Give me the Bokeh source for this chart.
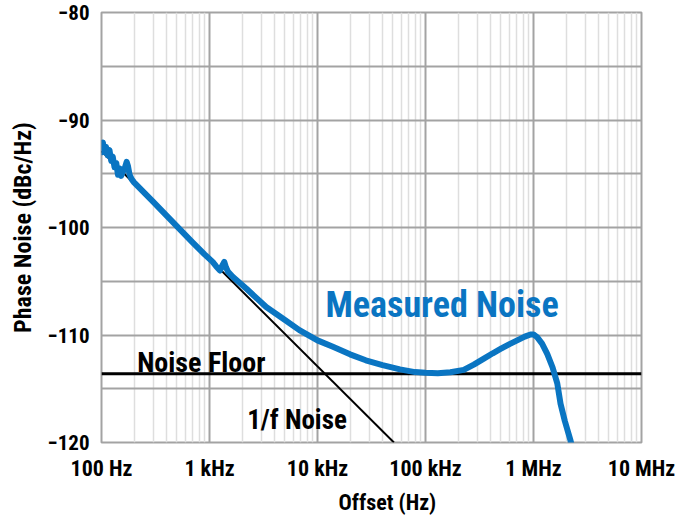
from bokeh.plotting import figure
from bokeh.models import Range1d, FixedTicker, Label, Title
from bokeh.embed import file_html
from bokeh.resources import INLINE

# ---- data ----
measured_freq = [100, 101.5, 103, 106.5, 110, 114, 118.5, 123, 127, 132, 137, 142, 147,
                 152, 158, 165, 171, 176, 182, 190, 200,
                 300, 500, 700, 900, 1070, 1150, 1250, 1320, 1370, 1420, 1480, 1650,
                 2200, 3350, 5000, 6800, 10000, 13900, 20000, 28000, 40000, 58000,
                 80000, 100000, 130000, 170000, 226000, 280000, 347000, 420000,
                 495000, 600000, 706000, 830000, 938000, 1000000, 1080000, 1200000,
                 1340000, 1500000, 1660000, 1780000, 1950000, 2200000, 2300000]
measured_db = [-92.3, -93.0, -92.1, -93.0, -92.5, -93.3, -92.8, -93.8, -93.4, -94.4, -94.0, -95.1, -94.5,
               -95.2, -94.8, -94.4, -93.9, -94.3, -95.1, -95.5, -95.8,
               -97.6, -99.9, -101.4, -102.5, -103.2, -103.6, -104.0, -103.5, -103.2, -103.7, -104.1, -104.6,
               -105.7, -107.4, -108.6, -109.55, -110.5, -111.1, -111.8, -112.35, -112.8, -113.2,
               -113.45, -113.52, -113.55, -113.46, -113.24, -112.75, -112.2, -111.7,
               -111.3, -110.85, -110.5, -110.15, -109.95, -109.95, -110.2, -110.8,
               -111.75, -113.0, -114.5, -116.4, -118.0, -119.8, -120.6]

flicker_freq = [100, 51000]
flicker_db = [-92.9, -120.0]

floor_freq = [100, 10000000]
floor_db = [-113.6, -113.6]

x_ticks = [100, 1000, 10000, 100000, 1000000, 10000000]
x_tick_labels = ["100 Hz", "1 kHz", "10 kHz", "100 kHz", "1 MHz", "10 MHz"]
x_minor = [m * d for d in [100, 1000, 10000, 100000, 1000000] for m in range(2, 10)]
y_ticks = [-80, -90, -100, -110, -120]
y_grid = [-80, -85, -90, -95, -100, -105, -110, -115, -120]

FONT = "Roboto Condensed, DejaVu Sans Condensed, Roboto"
BLUE = "#0a75c2"
GRID = "#a3a3a3"

p = figure(width=692, height=518, x_axis_type="log", title=None,
           x_range=Range1d(100, 10000000), y_range=Range1d(-120, -80),
           output_backend="svg", toolbar_location=None,
           min_border_left=101, min_border_right=51, min_border_top=12, min_border_bottom=76)

p.outline_line_color = GRID
p.outline_line_width = 2
p.background_fill_color = "white"
p.border_fill_color = "white"

# grids
p.xgrid.ticker = FixedTicker(ticks=x_ticks, minor_ticks=x_minor)
p.xgrid.grid_line_color = GRID
p.xgrid.grid_line_width = 2
p.xgrid.minor_grid_line_color = "#dedede"
p.xgrid.minor_grid_line_width = 1.5
p.ygrid.ticker = FixedTicker(ticks=y_grid)
p.ygrid.grid_line_color = GRID
p.ygrid.grid_line_width = 2

# axes
xa = p.xaxis[0]
xa.ticker = FixedTicker(ticks=x_ticks)
xa.major_label_overrides = {t: l for t, l in zip(x_ticks, x_tick_labels)}
ya = p.yaxis[0]
ya.ticker = FixedTicker(ticks=y_ticks)
for ax in (xa, ya):
    ax.axis_line_color = None
    ax.major_tick_line_color = None
    ax.minor_tick_line_color = None
    ax.major_tick_out = 0
    ax.minor_tick_out = 0
    ax.major_label_text_font = FONT
    ax.major_label_text_font_style = "bold"
    ax.major_label_text_color = "black"
xa.major_label_text_font_size = "22px"
xa.major_label_standoff = 13
ya.major_label_text_font_size = "21px"
ya.major_label_standoff = 12

ya.axis_label = "Phase Noise (dBc/Hz)"
ya.axis_label_text_font = FONT
ya.axis_label_text_font_style = "bold"
ya.axis_label_text_font_size = "24px"
ya.axis_label_text_color = "black"
ya.axis_label_standoff = 8

# x-axis title, placed below the axis
xt = Title(text="Offset (Hz)", align="left", offset=237, text_font=FONT,
           text_font_style="bold", text_font_size="22px", text_color="black",
           vertical_align="bottom")
if hasattr(xt, "standoff"):
    xt.standoff = 8
p.add_layout(xt, "below")

# lines
p.line(flicker_freq, flicker_db, line_color="black", line_width=2)
p.line(floor_freq, floor_db, line_color="black", line_width=3)
p.line(measured_freq, measured_db, line_color=BLUE, line_width=6, line_join="round", line_cap="round")

# annotations
p.add_layout(Label(x=11870, y=-107.17, text="Measured Noise", text_font=FONT,
                   text_font_style="bold", text_font_size="36px", text_color=BLUE,
                   text_baseline="alphabetic"))
p.add_layout(Label(x=214, y=-112.52, text="Noise Floor", text_font=FONT,
                   text_font_style="bold", text_font_size="28px", text_color="black",
                   text_baseline="alphabetic"))
p.add_layout(Label(x=2234, y=-117.94, text="1/f Noise", text_font=FONT,
                   text_font_style="bold", text_font_size="27px", text_color="black",
                   text_baseline="alphabetic"))

open("out.html", "w").write(file_html(p, INLINE))
